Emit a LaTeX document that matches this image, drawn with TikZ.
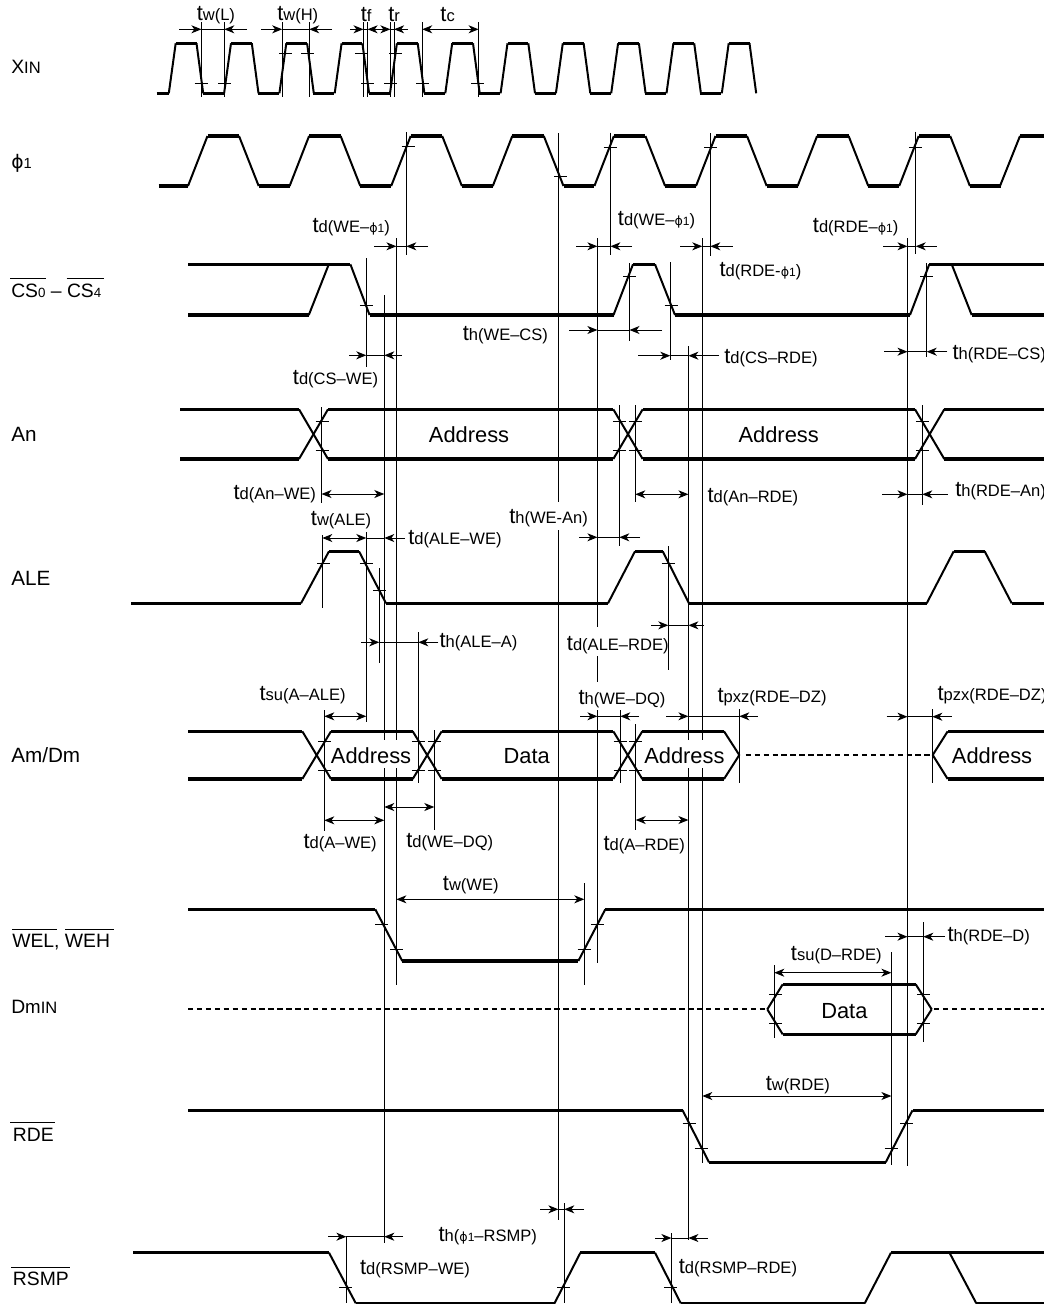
\documentclass[tikz,border=0pt]{standalone}
\usepackage{fontspec}
\setmainfont{Liberation Sans}
\newfontfamily\phifont{DejaVu Sans}
\usetikzlibrary{arrows.meta}

\newcommand{\subfont}{\fontsize{12.4}{12.4}\selectfont}
\newcommand{\tsub}[1]{t{\subfont #1}}
\newcommand{\phione}{{\phifont\fontsize{9.5}{9.5}\selectfont ϕ}{\fontsize{9}{9}\selectfont 1}}

% one signal line: flat parts heavy, edges lighter
\newcommand{\trace}[1]{%
  \foreach \px/\py [count=\n, remember=\px as \qx, remember=\py as \qy] in {#1}{%
    \ifnum\n>1
      \ifdim\py pt=\qy pt \draw[level] (\qx,\qy) -- (\px,\py);
      \else \draw[slope] (\qx,\qy) -- (\px,\py); \fi
    \fi}}
% y, free end, tip, tip, free end
\newcommand{\inarrows}[5]{%
  \draw[dimline,->] (#2,#1) -- (#3,#1);
  \draw[dimline,->] (#5,#1) -- (#4,#1);
  \draw[dimline] (#3,#1) -- (#4,#1);}
% y, tip, tip
\newcommand{\outarrows}[3]{\draw[dimline,<->] (#2,#1) -- (#3,#1);}

\tikzset{
  level/.style={line width=2.5pt},
  slope/.style={line width=1.5pt},
  dashline/.style={line width=1.5pt,dash pattern=on 4pt off 2.7pt},
  dimline/.style={line width=0.75pt},
  lab/.style={anchor=west,inner sep=0pt,font=\fontsize{16.4}{18}\selectfont},
  sig/.style={anchor=west,inner sep=0pt,font=\fontsize{14.5}{16}\selectfont},
  sigbig/.style={anchor=west,inner sep=0pt,font=\fontsize{15.5}{17}\selectfont},
  >={Stealth[length=7.5pt,width=6pt,inset=2.2pt]}
}

\begin{document}
\begin{tikzpicture}[x=0.75pt,y=0.75pt,yscale=-1,xscale=1]
\useasboundingbox (0,0) rectangle (1044,1304);

%XIN clock
\draw[level] (156.5,93.3) -- (168.8,93.3);
\foreach \i in {0,...,10}{
  \draw[slope] ({168.8+55.3*\i},93.3) -- ++(6.9,-50) ++(20.8,0) -- ++(6.7,50);
  \draw[level] ({175.7+55.3*\i},43.3) -- ++(20.8,0);
}
\foreach \i in {0,...,9}
  \draw[level] ({202.7+55.3*\i},93.3) -- ++(21,0);

%phi1 clock
\draw[level] (158.6,186) -- (188,186);
\foreach \i in {0,...,7}{
  \draw[slope] ({188+101.6*\i},186) -- ++(19.5,-50) ++(31.5,0) -- ++(19.7,50);
  \draw[level] ({207.5+101.6*\i},136) -- ++(31.5,0);
  \draw[level] ({258.7+101.6*\i},186) -- ++(30.9,0);
}
\trace{1000/186, 1020/136, 1044/136}

%CS
\trace{188/264.3, 350.4/264.3, 369.6/315, 613.5/315, 633/264.3, 655/264.3, 675/315, 910/315, 929.3/264.3, 1044/264.3}
\trace{188/315, 308.8/315, 328.8/264.3}
\trace{951.7/264.3, 971.7/315, 1044/315}

%An
\trace{180/409.3, 299/409.3, 328/459, 613.3/459, 642.7/409.3, 915/409.3, 944.3/459, 1044/459}
\trace{180/459, 299/459, 328/409.3, 613.3/409.3, 642.7/459, 915/459, 944.3/409.3, 1044/409.3}

%ALE
\trace{131/603.3, 301/603.3, 329/551.3, 359/551.3, 386/603.3, 608/603.3, 635/551.3, 662.7/551.3, 689/603.3, 926.7/603.3, 953.7/551.3, 984.7/551.3, 1011.7/603.3, 1044/603.3}

%Am/Dm
\trace{188/731.3, 302.3/731.3, 331/779, 412.7/779, 441.7/731.3, 613.3/731.3, 642.3/779, 724/779, 739.3/755}
\trace{188/779, 302.3/779, 331/731.3, 412.7/731.3, 441.7/779, 613.3/779, 642.3/731.3, 724/731.3, 739.3/755}
\trace{1044/731.3, 947.7/731.3, 932.7/755, 947.7/779, 1044/779}
\draw[dashline] (745.7,755) -- (930,755);

%WE
\trace{188/909.3, 375.3/909.3, 402.3/961, 578.3/961, 605.3/909.3, 1044/909.3}

%DmIN
\draw[dashline] (188,1009.3) -- (765,1009.3);
\trace{767.3/1009.3, 782.7/984.3, 915.7/984.3, 931.7/1009.3, 915.7/1034.3, 782.7/1034.3, 767.3/1009.3}
\draw[dashline] (934,1009.3) -- (1044,1009.3);

%RDE
\trace{188/1110.3, 682.6/1110.3, 709/1162.3, 885.7/1162.3, 912.5/1110.3, 1044/1110.3}

%RSMP
\trace{133/1252.7, 329/1252.7, 355.8/1303.3, 554.5/1303.3, 580.4/1252.7, 655/1252.7, 680.8/1303.3, 864.7/1303.3, 891/1252.7, 1044/1252.7}
\trace{949.5/1252.7, 976.3/1303.3, 1044/1303.3}

%Vertical guide lines
\foreach \gx in {201.4,224.3,282.2,309.2,363.5,367.6,390.4,394.1,422.2,478.6}
  \draw[dimline] (\gx,22) -- (\gx,96.7);
\foreach \gx/\gt/\gb in {406.3/132/255, 558.4/133/502, 558.4/530/1220, 610.4/132.7/255, 710.3/133/256, 915.7/131.7/254,
  366.3/258/367, 366.3/532/722, 384.3/295/740, 384.3/768/1243, 396.4/238/740, 396.4/768/985,
  597.4/238/627, 597.4/656/682, 597.4/710/963, 702.3/238/740, 702.3/768/1163, 670.3/262/360,
  629.5/263/341, 926.7/263/357, 907.5/238/1166, 891.4/952/1165, 688.4/346/740, 688.4/768/1240,
  321.5/407/503, 619.3/405/546, 635.3/405/502, 922.3/405/505, 322.3/535/608, 668.3/546/670,
  418.3/632/783, 379.3/568/663, 324.3/710/831, 620.3/710/783, 635.7/724/830, 434.3/730/830,
  739.3/709/783, 932.3/709/783, 584.3/883/985, 774.3/965/1038, 923.3/922/1042,
  346.4/1237/1303, 564.3/1203/1303, 671.4/1233/1303}
  \draw[dimline] (\gx,\gt) -- (\gx,\gb);

%Threshold ticks
\foreach \tx/\ty in {201/83, 224.5/83, 367.7/83, 390.5/83, 422.5/83, 477.6/83, 285.5/53, 307.5/53, 361.4/53, 395.7/53,
  408/146.7, 560.6/176, 610/147, 710.6/147, 915.4/147,
  366.3/305, 671/305, 629.6/276.3, 926.7/276.3,
  322/421, 322/450.3, 619.3/421, 619.3/450.3, 635.3/421, 635.3/450.3, 922.3/421, 922.3/450.3,
  323.7/563.3, 366.3/563.3, 668/563.3, 379.5/590,
  324.5/741.3, 324.5/770, 418.3/741.3, 418.3/770, 434.3/741.3, 434.3/770, 620/741.3, 620/770, 635.7/741.3, 635.7/770,
  381.7/924.3, 597.3/924.3, 396.5/949.3, 584/949.3,
  775.5/994, 775.5/1023.3, 923.3/994, 923.3/1023.3,
  689/1123.3, 906.5/1123.3, 701/1148.3, 891/1148.3,
  345.8/1287.3, 563.6/1287.3, 670.7/1287.3}
  \draw[dimline] (\tx-6.5,\ty) -- (\tx+6.5,\ty);

%Arrows
\inarrows{29.3}{179}{201.4}{224.3}{247}
\inarrows{29.3}{261}{282.2}{309.2}{332}
\draw[dimline,->] (350.4,29.3) -- (363.5,29.3);
\draw[dimline] (363.5,29.3) -- (367.6,29.3);
\outarrows{29.3}{367.6}{390.4}
\draw[dimline] (390.4,29.3) -- (394.1,29.3);
\draw[dimline,->] (408,29.3) -- (394.1,29.3);
\outarrows{29.3}{422.2}{478.6}
\inarrows{246.3}{374}{396.4}{406.3}{428}
\inarrows{246.3}{576}{597.4}{610.4}{632}
\inarrows{246.3}{680}{702.3}{710.3}{732.7}
\inarrows{246.3}{883.3}{907.5}{915.7}{936.7}
\inarrows{330}{569}{597.4}{629.5}{662}
\inarrows{355.7}{638}{670.3}{688.4}{719}
\inarrows{351.7}{884}{907.5}{926.7}{947.3}
\inarrows{355.3}{349}{366.3}{384.3}{401.7}
\outarrows{494}{321.5}{384.3}
\outarrows{494.3}{635.3}{688.4}
\inarrows{494.3}{882}{907.5}{922.3}{947.7}
\outarrows{538}{322.3}{366.3}
\draw[dimline] (366.3,538) -- (384.3,538);
\draw[dimline,->] (405,538) -- (384.3,538);
\inarrows{537.3}{579}{597.4}{619.3}{640}
\inarrows{642.3}{361}{379.3}{418.3}{438.3}
\inarrows{625.3}{651}{668.3}{688.4}{704}
\outarrows{716.3}{324.3}{366.3}
\inarrows{716.3}{580}{597.4}{620.3}{639}
\inarrows{716.3}{666}{688.4}{739.3}{757.7}
\inarrows{716.7}{886.7}{907.5}{932.3}{951.7}
\outarrows{820.3}{324.3}{384.3}
\outarrows{807}{384.3}{434.3}
\outarrows{820}{635.7}{688.4}
\outarrows{899.3}{396.4}{584.3}
\inarrows{936.7}{885}{907.5}{923.3}{945}
\outarrows{972.7}{774.3}{891.4}
\outarrows{1096}{702.3}{891.4}
\inarrows{1209.3}{540}{558.4}{564.3}{584}
\inarrows{1236.7}{328}{346.4}{384.3}{403}
\inarrows{1238}{655}{671.4}{688.4}{707.6}

%Signal names
\node[sig] (xin) at (11,67) {X{\subfont IN}};
\node[sig] (phi) at (11,163) {{\phifont\fontsize{14}{15}\selectfont ϕ}{\fontsize{11}{12}\selectfont 1}};
\node[sig] (cs) at (11,290.7) {CS{\fontsize{10}{10}\selectfont 0} -- CS{\fontsize{10}{10}\selectfont 4}};
\draw[dimline] (10,278.3) -- (45.7,278.3) (66.7,278.3) -- (104,278.3);
\node[sigbig] (an) at (11,434) {An};
\node[sigbig] (ale) at (11,578) {ALE};
\node[sigbig] (amdm) at (11,755) {Am/Dm};
\node[sig] (we) at (12,942) {WEL, WEH};
\draw[dimline] (12.3,929.3) -- (56.7,929.3) (65,929.3) -- (114,929.3);
\node[sig] (dmin) at (11,1007.3) {D{\fontsize{14}{14}\selectfont m}{\subfont IN}};
\node[sig] (rde) at (12.7,1135) {RDE};
\draw[dimline] (10,1122.7) -- (55,1122.7);
\node[sig] (rsmp) at (12.7,1279) {RSMP};
\draw[dimline] (11,1267.3) -- (70,1267.3);

%Timing names
\node[lab] (twl) at (196.5,15) {\tsub{w(L)}};
\node[lab] (twh) at (277,15) {\tsub{w(H)}};
\node[lab] (tf) at (360.6,15) {\tsub{f}};
\node[lab] (tr) at (388,15) {\tsub{r}};
\node[lab] (tc) at (440.2,15) {\tsub{c}};
\node[lab] (tdwephia) at (312.4,226.7) {\tsub{d(WE--\phione)}};
\node[lab] (tdwephib) at (617.7,220) {\tsub{d(WE--\phione)}};
\node[lab] (tdrdephia) at (812.7,226.7) {\tsub{d(RDE--\phione)}};
\node[lab] (tdrdephib) at (719.3,270.7) {\tsub{d(RDE-\phione)}};
\node[lab] (thwecs) at (462.6,335) {\tsub{h(WE--CS)}};
\node[lab] (tdcsrde) at (724,357.7) {\tsub{d(CS--RDE)}};
\node[lab] (thrdecs) at (952.3,354) {\tsub{h(RDE--CS)}};
\node[lab] (tdcswe) at (292.7,379.3) {\tsub{d(CS--WE)}};
\node[lab] (addra) at (428.7,435) {Address};
\node[lab] (addrb) at (738.3,435) {Address};
\node[lab] (tdanwe) at (233.3,494) {\tsub{d(An--WE)}};
\node[lab] (tdanrde) at (707.3,496.7) {\tsub{d(An--RDE)}};
\node[lab] (thrdean) at (955,491) {\tsub{h(RDE--An)}};
\node[lab] (twale) at (310.7,520.3) {\tsub{w(ALE)}};
\node[lab] (tdalewe) at (408,539.3) {\tsub{d(ALE--WE)}};
\node[lab] (thwean) at (509,518.3) {\tsub{h(WE-An)}};
\node[lab] (thalea) at (439.3,641.7) {\tsub{h(ALE--A)}};
\node[lab] (tdalerde) at (566.7,645) {\tsub{d(ALE--RDE)}};
\node[lab] (tsuaale) at (259.3,695) {\tsub{su(A--ALE)}};
\node[lab] (thwedq) at (578.3,699.3) {\tsub{h(WE--DQ)}};
\node[lab] (tpxz) at (717.3,696.7) {\tsub{pxz(RDE--DZ)}};
\node[lab] (tpzx) at (937.3,695.3) {\tsub{pzx(RDE--DZ)}};
\node[lab] (addrc) at (330.7,756) {Address};
\node[lab] (dataa) at (503.3,756) {Data};
\node[lab] (addrd) at (644,756) {Address};
\node[lab] (addre) at (951.7,756) {Address};
\node[lab] (tdawe) at (303.3,842.7) {\tsub{d(A--WE)}};
\node[lab] (tdwedq) at (406,841.7) {\tsub{d(WE--DQ)}};
\node[lab] (tdarde) at (603.3,845) {\tsub{d(A--RDE)}};
\node[lab] (twwe) at (442.7,885) {\tsub{w(WE)}};
\node[lab] (thrded) at (947.3,935.7) {\tsub{h(RDE--D)}};
\node[lab] (tsudrde) at (790.7,955.3) {\tsub{su(D--RDE)}};
\node[lab] (datab) at (821,1010.7) {Data};
\node[lab] (twrde) at (765.6,1085) {\tsub{w(RDE)}};
\node[lab] (thphirsmp) at (438.4,1235.7) {\tsub{h(\phione--RSMP)}};
\node[lab] (tdrsmpwe) at (359.8,1269) {\tsub{d(RSMP--WE)}};
\node[lab] (tdrsmprde) at (678.6,1267.7) {\tsub{d(RSMP--RDE)}};

\end{tikzpicture}
\end{document}
